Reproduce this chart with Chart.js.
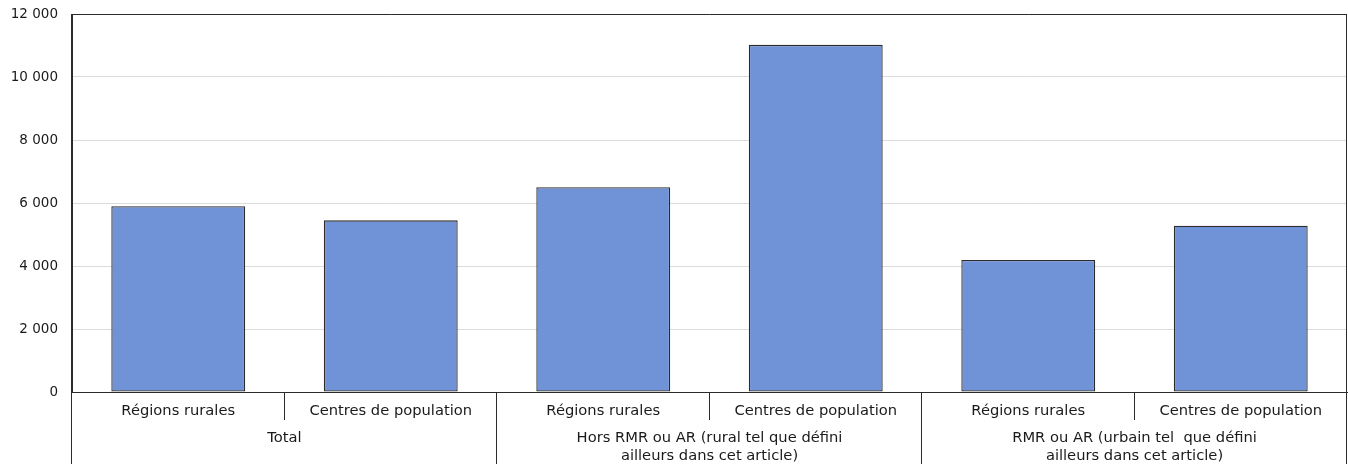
<!DOCTYPE html>
<html>
<head>
<meta charset="utf-8">
<script src="https://cdn.jsdelivr.net/npm/chart.js@4.4.1/dist/chart.umd.min.js"></script>
<style>
  html, body { margin: 0; padding: 0; background: #fff; }
  canvas { display: block; }
</style>
</head>
<body>
<canvas id="chart" width="1348" height="464"></canvas>
<script>
// Sub categories (one bar each) and the groups they belong to
const subLabels = ['Régions rurales', 'Centres de population', 'Régions rurales', 'Centres de population', 'Régions rurales', 'Centres de population'];
const groupLabels = [
  'Total',
  ['Hors RMR ou AR (rural tel que défini', 'ailleurs dans cet article)'],
  ['RMR ou AR (urbain tel  que défini', 'ailleurs dans cet article)']
];
const groupSize = 2;
const values = [5900, 5450, 6500, 11020, 4190, 5280];
const yTicks = [0, 2000, 4000, 6000, 8000, 10000, 12000];

const FONT = "'DejaVu Sans', Verdana, sans-serif";
const lineColor = '#2b2b2b';

// draws the frame and the separators of the two-level category axis
const framePlugin = {
  id: 'frame',
  afterDraw(chart) {
    const ctx = chart.ctx;
    const area = chart.chartArea;
    const x = chart.scales.x;
    const H = chart.height;
    const step = (x.getPixelForTick(1) - x.getPixelForTick(0));
    ctx.save();
    ctx.strokeStyle = lineColor;
    ctx.lineWidth = 1;
    ctx.beginPath();
    // top border
    ctx.moveTo(area.left, Math.round(area.top) + 0.5);
    ctx.lineTo(area.right, Math.round(area.top) + 0.5);
    for (let i = 0; i <= subLabels.length; i++) {
      const px = Math.round(x.getPixelForTick(0) - step / 2 + i * step) - 0.5;
      if (i % groupSize === 0) {
        const top = (i === 0 || i === subLabels.length) ? area.top : area.bottom;
        ctx.moveTo(px, top);
        ctx.lineTo(px, H);
      } else {
        ctx.moveTo(px, area.bottom);
        ctx.lineTo(px, area.bottom + 28);
      }
    }
    ctx.stroke();
    ctx.restore();
  }
};

new Chart(document.getElementById('chart'), {
  type: 'bar',
  data: {
    labels: subLabels,
    datasets: [{
      data: values,
      backgroundColor: '#7092d6',
      borderColor: lineColor,
      borderWidth: 1.3,
      borderSkipped: false,
      categoryPercentage: 1,
      barPercentage: 0.63
    }]
  },
  options: {
    responsive: false,
    devicePixelRatio: 1,
    animation: false,
    layout: { padding: { top: 14, right: 1, left: 0, bottom: 0 } },
    plugins: {
      legend: { display: false },
      tooltip: { enabled: false }
    },
    scales: {
      x: {
        grid: { display: false, drawTicks: false },
        border: { display: true, color: lineColor },
        ticks: { color: '#1a1a1a', font: { family: FONT, size: 14.7 }, padding: 10, maxRotation: 0, autoSkip: false },
        afterFit(scale) { scale.height = 30; }
      },
      x2: {
        type: 'category',
        labels: groupLabels,
        offset: true,
        grid: { display: false, drawTicks: false },
        border: { display: false },
        ticks: { color: '#1a1a1a', font: { family: FONT, size: 14.7, lineHeight: 1.24 }, padding: 7, maxRotation: 0, autoSkip: false },
        afterFit(scale) { scale.height = 42; }
      },
      y: {
        min: 0,
        max: 12000,
        afterBuildTicks(scale) { scale.ticks = yTicks.map(v => ({ value: v })); },
        grid: { color: '#dcdcdc', drawTicks: false },
        border: { display: true, color: lineColor },
        ticks: {
          color: '#1a1a1a',
          font: { family: FONT, size: 13.5 },
          padding: 14,
          callback: v => v.toString().replace(/\B(?=(\d{3})+(?!\d))/g, ' ')
        },
        afterFit(scale) {
          scale.width = 72;
          // tick padding should not push the plot area down
          scale.paddingTop = 0;
          scale.paddingBottom = 0;
        }
      }
    }
  },
  plugins: [framePlugin]
});
</script>
</body>
</html>
